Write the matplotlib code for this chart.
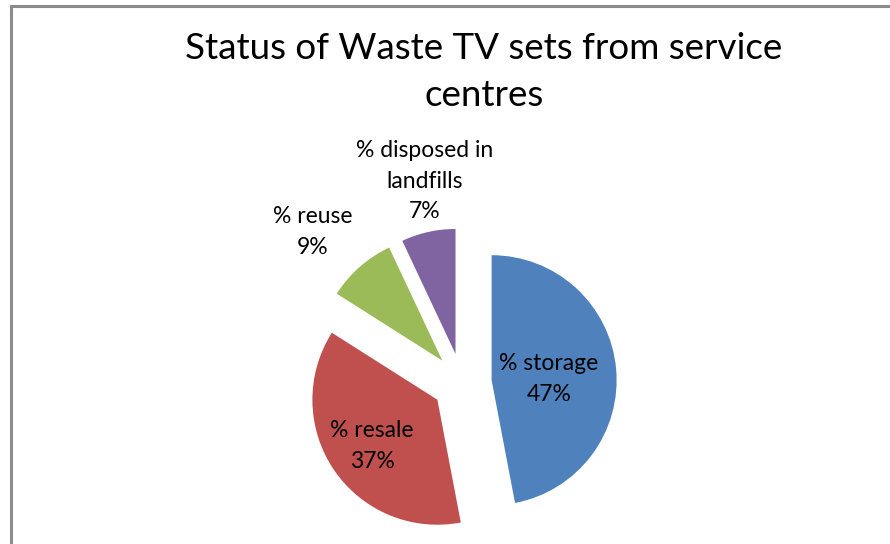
import matplotlib
matplotlib.use("Agg")
import matplotlib.pyplot as plt
from matplotlib.patches import Rectangle

categories = ["% storage", "% resale", "% reuse", "% disposed in\nlandfills"]
shares = [47, 37, 9, 7]
colors = ["#4F81BD", "#C0504D", "#9BBB59", "#8064A2"]

W, H = 890, 544
plt.rcParams["font.family"] = ["Lato", "DejaVu Sans"]

fig = plt.figure(figsize=(W / 100, H / 100), dpi=100)
ax = fig.add_axes([0, 0, 1, 1])

center = (462, H - 383)
radius = 125
# every slice pulled out by roughly a quarter of the radius
ax.pie(shares, colors=colors, startangle=90, counterclock=False,
       explode=[0.238 * radius] * len(shares), radius=radius, center=center,
       wedgeprops=dict(linewidth=0))
ax.set_xlim(0, W)
ax.set_ylim(0, H)
ax.set_aspect("equal")
ax.axis("off")

# chart-area border (extends past the right and bottom edges)
fig.patches.append(Rectangle((10.5 / W, -0.1), 1.2, (H - 5.5) / H + 0.1,
                             transform=fig.transFigure, fill=False,
                             edgecolor="#8C8C8C", linewidth=2.2))

ax.text(484, H - 72, "Status of Waste TV sets from service\ncentres",
        ha="center", va="center", fontsize=26.5, linespacing=1.55)

label_pos = [(549, 379), (372, 446), (313, 232), (425, 181)]
for name, val, (x, y) in zip(categories, shares, label_pos):
    ax.text(x, H - y, f"{name}\n{val}%", ha="center", va="center",
            fontsize=16.5, linespacing=1.56)

fig.savefig("out.png", dpi=100)
